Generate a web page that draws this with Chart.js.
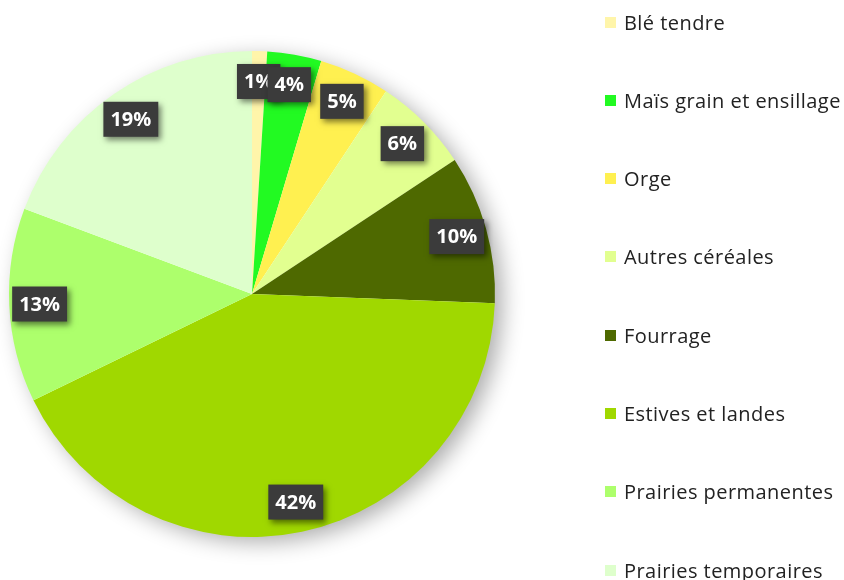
<!DOCTYPE html>
<html>
<head>
<meta charset="utf-8">
<script src="https://cdn.jsdelivr.net/npm/chart.js@4.4.1/dist/chart.umd.min.js"></script>
<style>
  html, body { margin: 0; padding: 0; background: #fff; }
  #wrap { position: relative; width: 844px; height: 580px; overflow: hidden; }
  #c { position: absolute; left: 0; top: 0; }
  #legend { position: absolute; left: 0; top: 0; width: 844px; height: 580px; pointer-events: none; }
  .item { position: absolute; left: 605px; height: 26px; display: flex; align-items: center; white-space: nowrap;
          font-family: "Open Sans", Lato, sans-serif; font-size: 20px; letter-spacing: 0.45px; color: #222; }
  .sw { width: 11px; height: 11px; margin-right: 8px; flex: none; }
</style>
</head>
<body>
<div id="wrap">
  <canvas id="c" width="844" height="580"></canvas>
  <div id="legend"></div>
</div>
<script>
const categories = ["Blé tendre", "Maïs grain et ensillage", "Orge", "Autres céréales", "Fourrage", "Estives et landes", "Prairies permanentes", "Prairies temporaires"];
const values = [1.0, 3.6, 4.7, 6.4, 9.9, 42.2, 12.9, 19.3];
const colors = ["#FFF5AA", "#22FA22", "#FFF050", "#E2FF90", "#4E6900", "#A0D800", "#ADFF6C", "#DEFFCC"];

const labelRadius = 0.875;

const shadowPlugin = {
  id: 'pieShadow',
  beforeDatasetsDraw(chart) {
    const arc = chart.getDatasetMeta(0).data[0];
    if (!arc) return;
    const ctx = chart.ctx;
    ctx.save();
    ctx.shadowColor = 'rgba(0,0,0,0.33)';
    ctx.shadowBlur = 22;
    ctx.shadowOffsetX = 8;
    ctx.shadowOffsetY = 6;
    ctx.fillStyle = '#ffffff';
    ctx.beginPath();
    ctx.arc(arc.x, arc.y, arc.outerRadius - 1, 0, Math.PI * 2);
    ctx.fill();
    ctx.restore();
  }
};

const labelPlugin = {
  id: 'pctLabels',
  afterDatasetsDraw(chart) {
    const ctx = chart.ctx;
    const meta = chart.getDatasetMeta(0);
    const data = chart.data.datasets[0].data;
    const total = data.reduce((a, b) => a + b, 0);
    ctx.save();
    ctx.font = 'bold 20px "Open Sans", Lato, sans-serif';
    ctx.textAlign = 'center';
    ctx.textBaseline = 'middle';
    meta.data.forEach((arc, i) => {
      const mid = (arc.startAngle + arc.endAngle) / 2;
      const r = arc.outerRadius * labelRadius;
      const x = arc.x + Math.cos(mid) * r;
      const y = arc.y + Math.sin(mid) * r;
      const txt = Math.round(data[i] / total * 100) + '%';
      const w = ctx.measureText(txt).width + 14;
      const h = 35;
      ctx.save();
      ctx.shadowColor = 'rgba(0,0,0,0.5)';
      ctx.shadowBlur = 6;
      ctx.shadowOffsetX = 3;
      ctx.shadowOffsetY = 3;
      ctx.fillStyle = '#3b3b3b';
      ctx.fillRect(x - w / 2, y - h / 2, w, h);
      ctx.restore();
      ctx.fillStyle = '#ffffff';
      ctx.fillText(txt, x, y + 1);
    });
    ctx.restore();
  }
};

const chart = new Chart(document.getElementById('c'), {
  type: 'pie',
  data: {
    labels: categories,
    datasets: [{ data: values, backgroundColor: colors, borderWidth: 0 }]
  },
  options: {
    responsive: false,
    animation: false,
    layout: { padding: { left: 9, top: 51, bottom: 43, right: 349 } },
    plugins: { legend: { display: false }, tooltip: { enabled: false } }
  },
  plugins: [shadowPlugin, labelPlugin]
});

const legendEl = document.getElementById('legend');
chart.data.labels.forEach((lab, i) => {
  const d = document.createElement('div');
  d.className = 'item';
  d.style.top = (22 + i * 78.3 - 13) + 'px';
  const sw = document.createElement('span');
  sw.className = 'sw';
  sw.style.background = chart.data.datasets[0].backgroundColor[i];
  const t = document.createElement('span');
  t.textContent = lab;
  d.appendChild(sw);
  d.appendChild(t);
  legendEl.appendChild(d);
});
</script>
</body>
</html>
